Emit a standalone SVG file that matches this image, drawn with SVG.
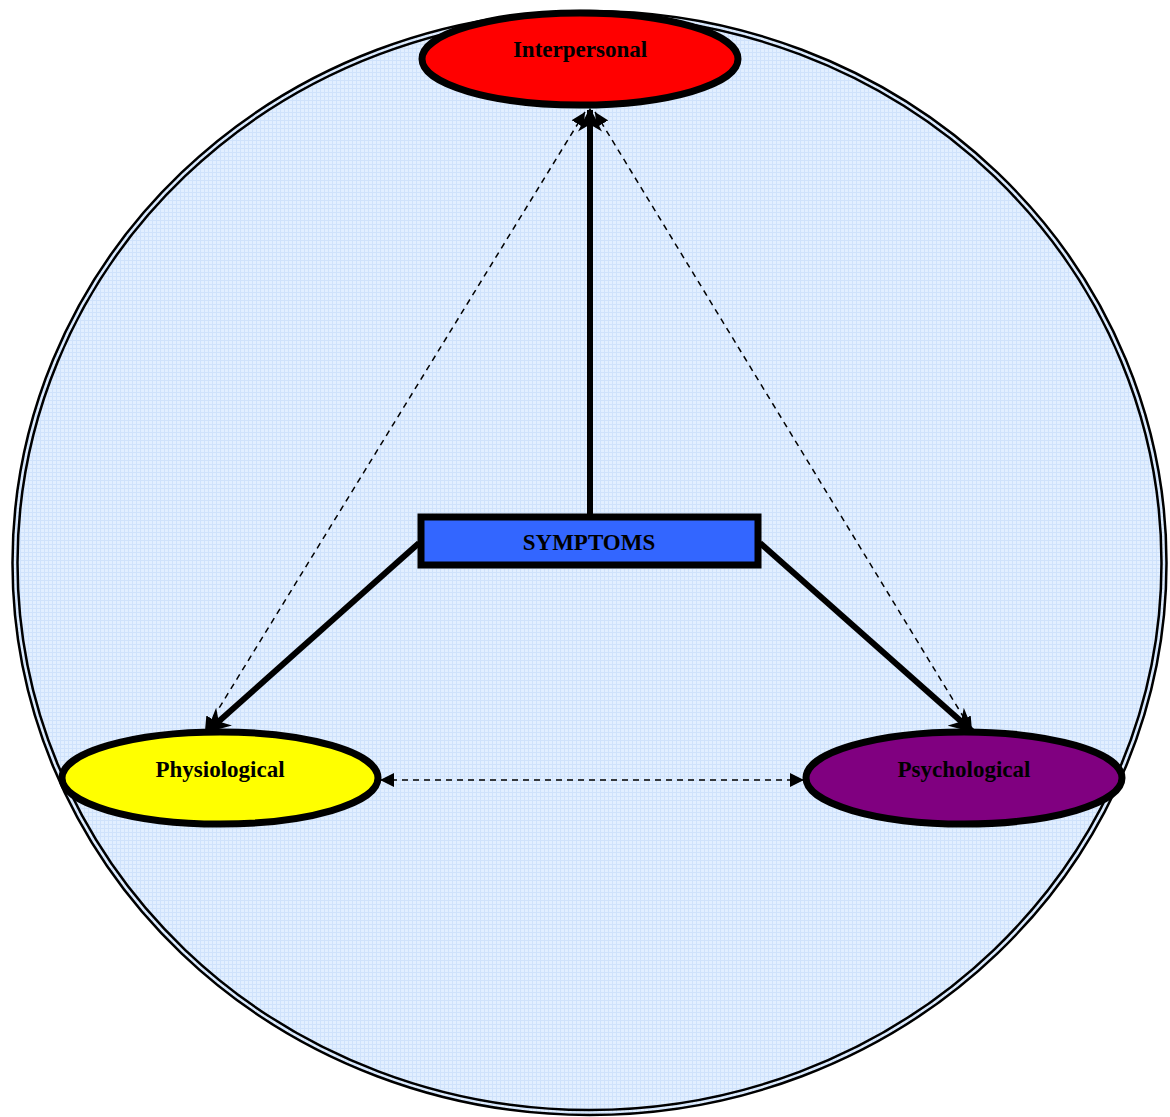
<svg xmlns="http://www.w3.org/2000/svg" width="1170" height="1117" viewBox="0 0 1170 1117">
  <style>
    .label { font-family: "Liberation Serif", "Times New Roman", serif; font-weight: bold; font-size: 23px; fill: #000; text-anchor: middle; }
    .node { stroke: #000; stroke-width: 7; }
    .thick { stroke: #000; stroke-width: 6; fill: none; }
    .dashed { stroke: #000; stroke-width: 1.5; stroke-dasharray: 6 5; fill: none; }
  </style>
  <defs>
    <pattern id="grid" width="4" height="4" patternUnits="userSpaceOnUse">
      <rect width="4" height="4" fill="#e2efff"/>
      <rect width="4" height="1" fill="#cfe2fb"/>
      <rect width="1" height="4" fill="#cfe2fb"/>
    </pattern>
    <marker id="headBig" viewBox="0 0 10 10" refX="9" refY="5" markerWidth="24" markerHeight="24" markerUnits="userSpaceOnUse" orient="auto">
      <path d="M0,0 L10,5 L0,10 L3,5 Z" fill="#000"/>
    </marker>
    <marker id="headSmall" viewBox="0 0 10 10" refX="10" refY="5" markerWidth="14" markerHeight="14" markerUnits="userSpaceOnUse" orient="auto-start-reverse">
      <path d="M0,0 L10,5 L0,10 Z" fill="#000"/>
    </marker>
  </defs>

  <!-- outer double-ruled boundary -->
  <g id="boundary">
    <ellipse cx="589.5" cy="563" rx="577" ry="552" fill="url(#grid)" stroke="#000" stroke-width="2.5"/>
    <ellipse cx="589.5" cy="563" rx="572" ry="547" fill="none" stroke="#000" stroke-width="2.5"/>
  </g>

  <!-- connectors -->
  <g id="connectors">
    <line class="thick" x1="590" y1="514" x2="590" y2="110" marker-end="url(#headBig)"/>
    <line class="thick" x1="419" y1="543" x2="208" y2="731" marker-end="url(#headBig)"/>
    <line class="thick" x1="760" y1="543" x2="972" y2="731" marker-end="url(#headBig)"/>
    <line class="dashed" x1="585" y1="112" x2="205" y2="731" marker-start="url(#headSmall)" marker-end="url(#headSmall)"/>
    <line class="dashed" x1="595" y1="112" x2="972" y2="731" marker-start="url(#headSmall)" marker-end="url(#headSmall)"/>
    <line class="dashed" x1="380" y1="780" x2="804" y2="780" marker-start="url(#headSmall)" marker-end="url(#headSmall)"/>
  </g>

  <g id="interpersonal">
    <ellipse class="node" cx="580" cy="59" rx="158" ry="46" fill="#ff0000"/>
    <text class="label" x="580" y="57">Interpersonal</text>
  </g>

  <g id="symptoms">
    <rect class="node" x="421" y="517" width="337" height="48" fill="#3366ff"/>
    <text class="label" x="589" y="550">SYMPTOMS</text>
  </g>

  <g id="physiological">
    <ellipse class="node" cx="220" cy="778" rx="158" ry="46" fill="#ffff00"/>
    <text class="label" x="220" y="777">Physiological</text>
  </g>

  <g id="psychological">
    <ellipse class="node" cx="964" cy="778" rx="158" ry="46" fill="#800080"/>
    <text class="label" x="964" y="777">Psychological</text>
  </g>
</svg>
